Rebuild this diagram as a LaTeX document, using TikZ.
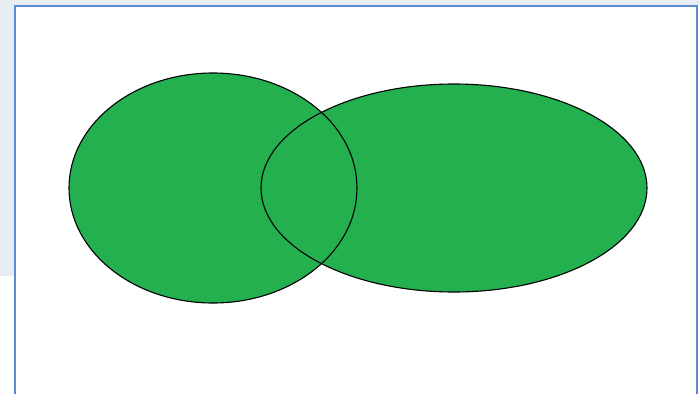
\documentclass[tikz,border=0pt]{standalone}
\definecolor{vgreen}{HTML}{24B04F}
\definecolor{pane}{HTML}{E8ECF3}
\definecolor{frameblue}{HTML}{5B8BD0}
\begin{document}
\begin{tikzpicture}[x=1pt,y=-1pt,
  venn/.style={fill=vgreen},
  outline/.style={draw=black,line width=1.1pt}]
\useasboundingbox (0,0) rectangle (700,394);
\fill[white] (0,0) rectangle (700,394);
\fill[pane] (0,0) rectangle (700,5);
\fill[pane] (0,0) rectangle (14,276);
\draw[frameblue,line width=2pt] (14.5,394) -- (14.5,5.5) -- (696.5,5.5) -- (696.5,394);
\fill[venn] (213,188) ellipse [x radius=144, y radius=115];
\fill[venn] (454,188) ellipse [x radius=193, y radius=104];
\draw[outline] (213,188) ellipse [x radius=144, y radius=115];
\draw[outline] (454,188) ellipse [x radius=193, y radius=104];
\end{tikzpicture}
\end{document}
